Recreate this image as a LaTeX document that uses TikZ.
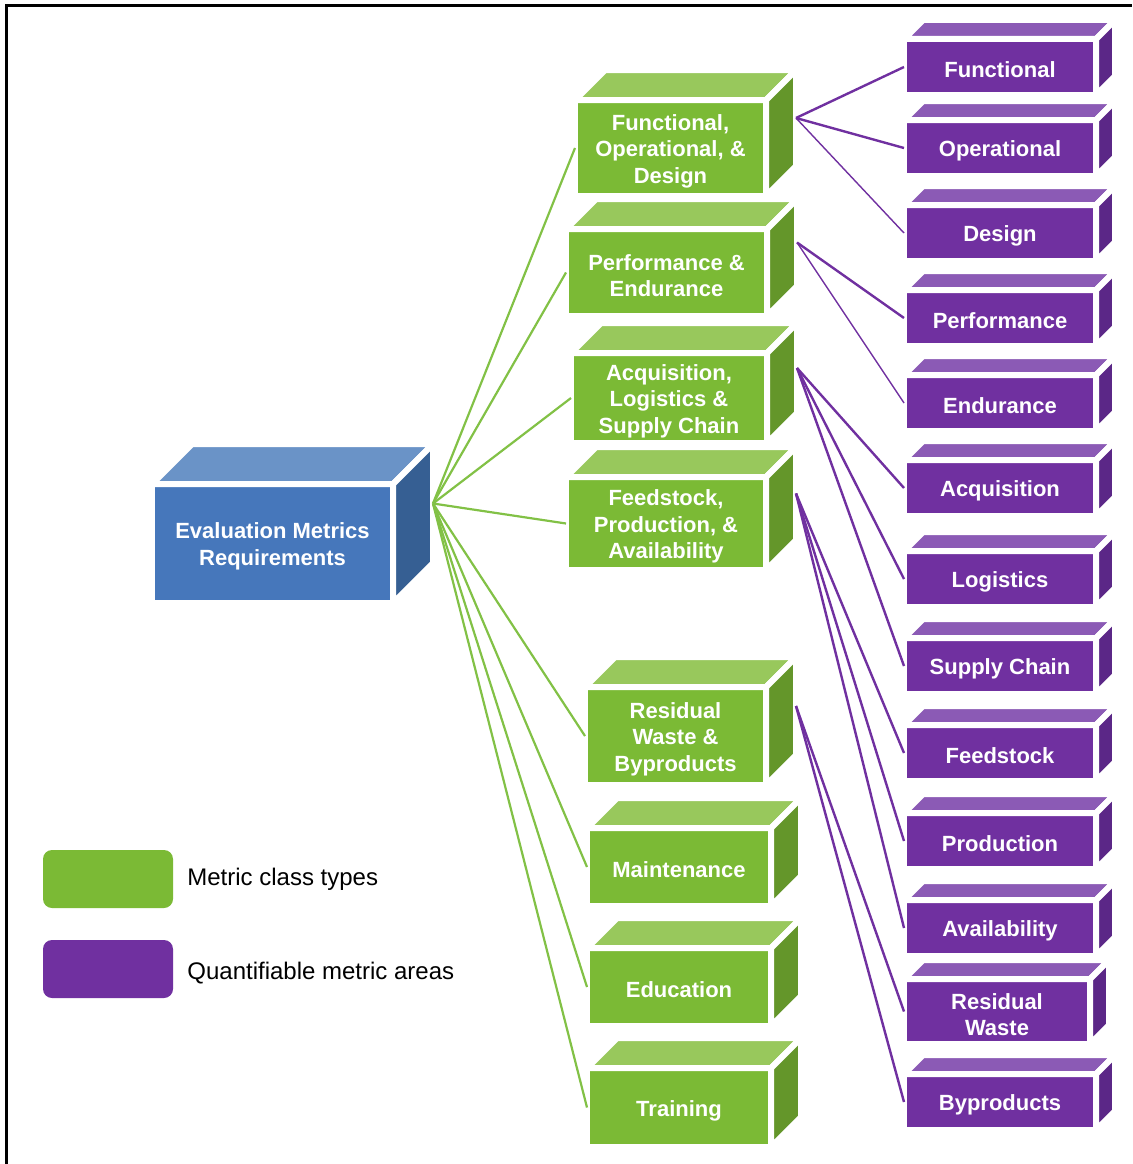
\documentclass[tikz,border=0pt]{standalone}
\usepackage{fontspec}
\setmainfont{Liberation Sans}
\usepackage{tikz}
\usetikzlibrary{positioning}
\definecolor{gfront}{HTML}{7BBA35}
\definecolor{gtop}{HTML}{98C85C}
\definecolor{gside}{HTML}{64962A}
\definecolor{bfront}{HTML}{4677BB}
\definecolor{btop}{HTML}{6A93C7}
\definecolor{bside}{HTML}{365F93}
\definecolor{pfront}{HTML}{7030A0}
\definecolor{ptop}{HTML}{8B5AB5}
\definecolor{pside}{HTML}{5B2787}
\definecolor{gline}{HTML}{82C146}
\definecolor{pline}{HTML}{7030A0}
\tikzset{
  cubefront/.style={draw=white, line width=6pt, inner sep=0pt, outer sep=0pt},
  cubetext/.style={inner sep=0pt, align=center, text=white,
    font=\fontsize{22}{26.5}\selectfont\bfseries},
  cubeface/.style={draw=white, line width=6pt},
  greenline/.style={draw=gline, line width=2.2pt},
  purpleline/.style={draw=pline, line width=2.4pt},
  thinpurple/.style={draw=pline, line width=1.4pt},
  legendbox/.style={rounded corners=9pt, minimum width=130pt, minimum height=58pt, inner sep=0pt},
  legendtext/.style={anchor=west, inner sep=0pt, font=\fontsize{24}{28}\selectfont},
}
% name, colour, depth, x, y, width, height, text
\newcommand{\cubebox}[8]{%
  \node[cubefront, fill=#2front, minimum width=#6pt, minimum height=#7pt] (#1) at (#4,#5) {};
  \filldraw[cubeface, fill=#2top] (#1.north west) -- ++(#3,-#3) -- ([shift={(#3,-#3)}]#1.north east) -- (#1.north east) -- cycle;
  \filldraw[cubeface, fill=#2side] (#1.north east) -- ([shift={(#3,-#3)}]#1.north east) -- ([shift={(#3,-#3)}]#1.south east) -- (#1.south east) -- cycle;
  \node[cubetext] (#1-label) at ([yshift=-3pt]#1.center) {#8};
  \coordinate (#1-out) at ([shift={(#3,-#3)}]#1.east);
}

\begin{document}
\begin{tikzpicture}[x=1pt, y=-1pt]
\useasboundingbox (0,0) rectangle (1132,1164);
\draw[line width=3pt] (6,1164) -- (6,6) -- (1132,6);

% requirements
\cubebox{req}{b}{40}{272.5}{543.5}{241}{119}{Evaluation Metrics\\Requirements}

% metric classes
\cubebox{fod}{g}{30}{670.5}{148}{191}{96}{Functional,\\Operational, \&\\Design}
\cubebox{pe}{g}{30}{666.5}{272.5}{201}{87}{Performance \&\\Endurance}
\cubebox{als}{g}{30}{669}{398}{196}{90}{Acquisition,\\Logistics \&\\Supply Chain}
\cubebox{fpa}{g}{30}{666}{523.5}{200}{93}{Feedstock,\\Production, \&\\Availability}
\cubebox{rwb}{g}{30}{675.5}{736}{181}{98}{Residual\\Waste \&\\Byproducts}
\cubebox{mnt}{g}{30}{679}{867}{184}{78}{Maintenance}
\cubebox{edu}{g}{30}{679}{987}{184}{78}{Education}
\cubebox{trn}{g}{30}{679}{1107.5}{184}{79}{Training}

% metric areas
\cubebox{fun}{p}{19}{1000}{67}{192}{56}{Functional}
\cubebox{ope}{p}{19}{1000}{148}{192}{56}{Operational}
\cubebox{des}{p}{19}{1000}{233}{192}{56}{Design}
\cubebox{per}{p}{19}{1000}{318}{192}{56}{Performance}
\cubebox{end}{p}{19}{1000}{403}{192}{56}{Endurance}
\cubebox{acq}{p}{19}{1000}{488}{192}{56}{Acquisition}
\cubebox{log}{p}{19}{1000}{579}{192}{56}{Logistics}
\cubebox{sup}{p}{19}{1000}{666}{192}{56}{Supply Chain}
\cubebox{fee}{p}{19}{1000}{753}{192}{56}{Feedstock}
\cubebox{pro}{p}{19}{1000}{841}{192}{56}{Production}
\cubebox{ava}{p}{19}{1000}{928}{192}{56}{Availability}
\cubebox{res}{p}{19}{997}{1011.5}{186}{65}{Residual\\Waste}
\cubebox{byp}{p}{19}{1000}{1102}{192}{56}{Byproducts}

% connectors
\foreach \c in {fod,pe,als,fpa,rwb,mnt,edu,trn}
  \draw[greenline] (req-out) -- (\c.west);
\draw[purpleline] (fod-out) -- (fun.west);
\draw[purpleline] (fod-out) -- (ope.west);
\draw[thinpurple] (fod-out) -- (des.west);
\draw[purpleline] (pe-out) -- (per.west);
\draw[thinpurple] (pe-out) -- (end.west);
\foreach \a in {acq,log,sup}
  \draw[purpleline] (als-out) -- (\a.west);
\foreach \a in {fee,pro,ava}
  \draw[purpleline] (fpa-out) -- (\a.west);
\foreach \a in {res,byp}
  \draw[purpleline] (rwb-out) -- (\a.west);

% legend
\node[legendbox, fill=gfront] (lgreen) at (108,879) {};
\node[legendbox, fill=pfront] (lpurple) at (108,969) {};
\node[legendtext, right=14pt of lgreen] (lgreen-text) {Metric class types};
\node[legendtext, right=14pt of lpurple, yshift=-4pt] (lpurple-text) {Quantifiable metric areas};
\end{tikzpicture}
\end{document}
